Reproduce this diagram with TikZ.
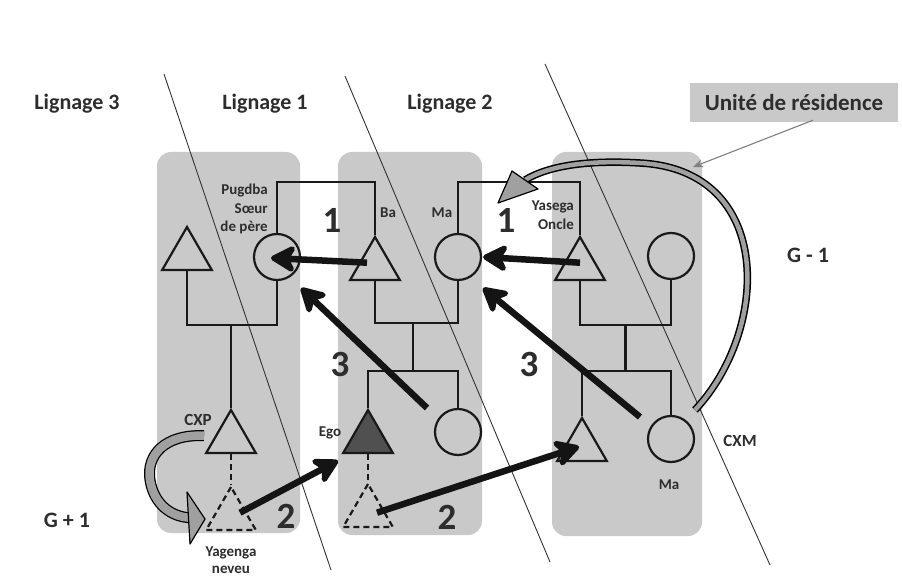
\documentclass[tikz,border=0pt]{standalone}
\usepackage{fontspec}
\setmainfont{Carlito}
\usetikzlibrary{arrows.meta,shapes.geometric,calc}
\definecolor{boxgray}{RGB}{201,201,201}
\definecolor{txt}{RGB}{45,45,45}
\definecolor{bandgray}{RGB}{160,160,160}
\definecolor{egofill}{RGB}{80,80,80}
\begin{document}
\begin{tikzpicture}[x=1pt,y=-1pt,
  resbox/.style={fill=boxgray, rounded corners=14pt, draw=none},
  diag/.style={line width=0.9pt, black!80},
  tri/.style={regular polygon, regular polygon sides=3, minimum size=57.4pt, inner sep=0pt, draw=black!90, line width=2.2pt},
  dtri/.style={tri, dash pattern=on 6pt off 4pt},
  circ/.style={circle, minimum size=46pt, inner sep=0pt, draw=black!90, line width=2.2pt},
  kin/.style={line width=2.2pt, black!90},
  kind/.style={kin, dash pattern=on 6pt off 4pt},
  thickarr/.style={line width=6.5pt, black!92, -{Stealth[length=30pt,width=33pt,inset=9pt,round]}},
  lbl/.style={font=\fontsize{15}{18.5}\selectfont\bfseries, text=txt, inner sep=0pt},
  mlbl/.style={font=\fontsize{17}{20}\selectfont\bfseries, text=txt, inner sep=0pt},
  big/.style={font=\fontsize{37}{40}\selectfont\bfseries, text=txt, inner sep=0pt},
  headlbl/.style={font=\fontsize{22}{26}\selectfont\bfseries, text=txt, inner sep=0pt},
  bandout/.style={line width=7.5pt, black},
  bandin/.style={line width=4.5pt, bandgray},
  bandhead/.style={fill=bandgray, draw=black, line width=1.2pt, line join=round},
]
\fill[white] (0,0) rectangle (902,585);
\useasboundingbox (0,0) rectangle (902,585);

% residence units
\fill[resbox] (157,152) rectangle (300,533);
\fill[resbox] (338,152) rectangle (482,535);
\fill[resbox] (552,152) rectangle (702,536);

% lineage separators
\draw[diag] (164,74) -- (331,570);
\draw[diag] (345,76) -- (550,562);
\draw[diag] (545,64) -- (770,565);

% individuals
\node[tri] (T1) at (187,255.7) {};
\node[circ] (P) at (277,257) {};
\node[tri] (CXPt) at (231,438.7) {};
\node[dtri] (YG) at (231,515.7) {};
\node[tri] (Ba) at (375,265.7) {};
\node[circ] (Ma) at (458,257) {};
\node[tri, fill=egofill] (Ego) at (368,438.7) {};
\node[circ] (C2) at (458,432) {};
\node[dtri] (EgoD) at (368,512.7) {};
\node[tri] (Ys) at (580,265.7) {};
\node[circ] (C3) at (671,256) {};
\node[tri] (T3) at (582,446.7) {};
\node[circ] (C4) at (671,439) {};

% kinship lines
\draw[kin] (P.north) -- (P.north |- 0,182) -| (Ba.corner 1);
\draw[kin] (Ma.north) -- (Ma.north |- 0,182) -| (Ys.corner 1);
\draw[kin] (T1.side 2) -- (T1.side 2 |- 0,325) -| (P.south);
\draw[kin] (CXPt.corner 1) -- (CXPt.corner 1 |- 0,325);
\draw[kin] (Ba.side 2) -- (Ba.side 2 |- 0,323) -| (Ma.south);
\coordinate (bm1) at ($(Ba.side 2 |- 0,323)!0.46!(Ma.south |- 0,323)$);
\draw[kin] (bm1) -- (bm1 |- 0,371);
\draw[kin] (Ego.corner 1) -- (Ego.corner 1 |- 0,371) -| (C2.north);
\draw[kin] (Ys.side 2) -- (Ys.side 2 |- 0,325) -| (C3.south);
\coordinate (bm2) at ($(Ys.side 2 |- 0,325)!0.5!(C3.south |- 0,325)$);
\draw[kin] (bm2) -- (bm2 |- 0,371);
\draw[kin] (T3.corner 1) -- (T3.corner 1 |- 0,371) -| (C4.north);
\draw[kind] (CXPt.side 2) -- (YG.corner 1);
\draw[kind] (Ego.side 2) -- (EgoD.corner 1);

% thick arrows
\draw[thickarr] ($(Ba.center)+(-8,-3)$) -- ($(P.center)+(-6,1)$);
\draw[thickarr] ($(Ys.center)+(0,-3)$) -- ($(Ma.east)+(1,0)$);
\draw[thickarr] ($(C2.center)+(-31,-24)$) -- ($(P.center)+(24,31)$);
\draw[thickarr] ($(C4.center)+(-31,-22)$) -- ($(Ma.center)+(25,31)$);
\draw[thickarr] ($(YG.center)+(9,-3)$) -- ($(Ego.center)+(-30,22)$);
\draw[thickarr] ($(EgoD.center)+(9,0)$) -- ($(T3.center)+(-3,0)$);

% big curved arrow (right)
\coordinate (arcS) at ($(C4.center)+(24,-29)$);
\coordinate (arcE) at ($(Ma.center)+(67,-77)$);
\draw[bandout] (arcS) .. controls (770,330) and (775,170) .. (640,163) .. controls (590,160) and (550,165) .. (arcE);
\draw[bandin] (arcS) .. controls (770,330) and (775,170) .. (640,163) .. controls (590,160) and (550,165) .. (arcE);
\filldraw[bandhead] (498,203) -- (538,189) -- (512,171) -- cycle;

% CXP curved arrow
\coordinate (cxS) at ($(CXPt.center)+(-27,-3)$);
\coordinate (cxE) at ($(YG.center)+(-41,2)$);
\draw[line width=11pt, black] (cxS) .. controls (165,434) and (146,455) .. (150,480) .. controls (154,505) and (172,517) .. (cxE);
\draw[line width=8.5pt, bandgray] (cxS) .. controls (165,434) and (146,455) .. (150,480) .. controls (154,505) and (172,517) .. (cxE);
\filldraw[bandhead] (187,492) -- (205,519) -- (190,544) -- cycle;

% residence unit label
\node[fill=boxgray, minimum width=208pt, minimum height=39pt, inner sep=0pt,
      font=\fontsize{23}{27}\selectfont\bfseries, text=txt] (UR) at (794,102.5) {Unité de résidence};
\coordinate (urT) at (693,167);
\draw[-{Stealth[length=10pt,width=8pt]}, black!50, line width=1.1pt] ($(UR.south)+(19,-2)$) -- (urT);

% headings
\node[headlbl] (L3) at (77,104) {Lignage 3};
\node[headlbl] (L1) at (265,104) {Lignage 1};
\node[headlbl] (L2) at (450,104) {Lignage 2};
\node[headlbl] (Gm) at (808,255) {G - 1};
\node[headlbl] (Gp) at (67,520) {G + 1};

% small labels
\node[lbl, align=right, anchor=east] (Pug) at (268,209) {Pugdba\\Sœur\\de père};
\node[lbl, align=right, anchor=east] (Yas) at (574,215) {Yasega\\Oncle};
\node[lbl] (lBa) at (388,213) {Ba};
\node[lbl] (lMa) at (442,213) {Ma};
\node[lbl] (lMa2) at (669,485) {Ma};
\node[mlbl] (lCXM) at (740,441) {CXM};
\node[mlbl] (lCXP) at (198,420) {CXP};
\node[lbl] (lEgo) at (330,433) {Ego};
\node[lbl, align=center, font=\fontsize{15}{16.5}\selectfont\bfseries] (lYag) at (231,560) {Yagenga\\neveu};

% numbers
\node[big] (n1a) at (332,220) {1};
\node[big] (n1b) at (506,220) {1};
\node[big] (n3a) at (340,364) {3};
\node[big] (n3b) at (529,364) {3};
\node[big] (n2a) at (286,516) {2};
\node[big] (n2b) at (447,517) {2};
\end{tikzpicture}
\end{document}
